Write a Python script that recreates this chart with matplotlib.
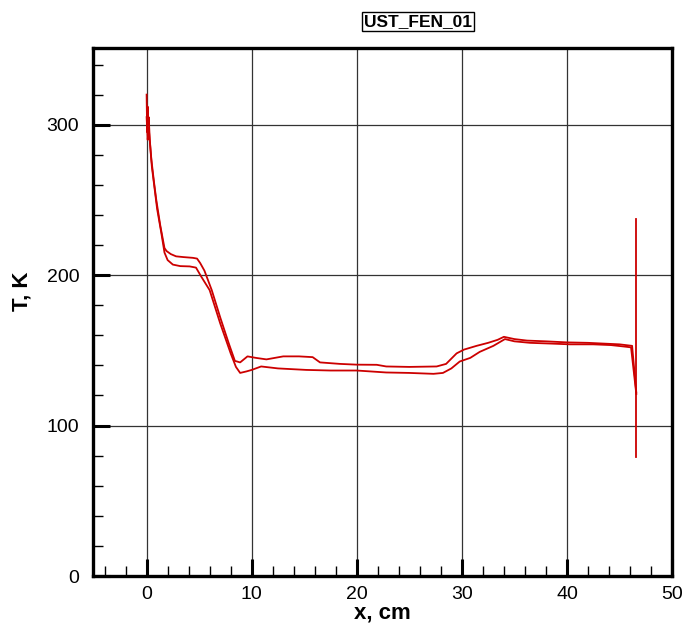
import numpy as np
import matplotlib
matplotlib.use("Agg")
import matplotlib.pyplot as plt
from matplotlib.ticker import MultipleLocator

plt.rcParams['font.family'] = ['Liberation Sans', 'DejaVu Sans']

# temperature profiles along x (two traces that form a loop)
x_upper = [0, 0.05, 0.1, 0.15, 0.2, 0.3, 0.45, 0.7, 0.92, 1.3, 1.7, 1.9, 2.3, 2.8,
           3.5, 4.4, 4.8, 5.1, 5.5, 6.2, 7.0, 7.8, 8.4, 8.9, 9.6, 10.4, 11.4, 12.2,
           13.0, 14.5, 15.8, 16.5, 18.4, 20.0, 21.9, 22.8, 25.0, 27.6, 28.5, 29.5,
           30.2, 31.4, 32.5, 33.4, 34.0, 35.0, 36.2, 38.0, 40.0, 42.0, 43.8, 45.0,
           46.2, 46.6]
T_upper = [320, 295, 312, 300, 305, 290, 277, 262, 250, 233, 218, 216, 214, 212.5,
           212, 211.5, 211, 208, 203, 190, 172, 155, 143, 142, 146, 145, 144, 145,
           146, 146, 145.5, 142, 141, 140.5, 140.4, 139.3, 139, 139.3, 141, 148,
           150.5, 153, 155, 157, 159, 157.5, 156.5, 156, 155.3, 155, 154.4, 154,
           153, 122]

x_lower = [0, 0.1, 0.2, 0.35, 0.5, 0.75, 1.0, 1.4, 1.7, 2.0, 2.5, 3.2, 4.1, 4.7,
           5.2, 6.0, 7.0, 8.0, 8.5, 8.9, 9.5, 10.0, 10.9, 12.5, 15.2, 17.5, 20.0,
           22.8, 25.0, 27.3, 28.2, 29.0, 29.8, 30.8, 31.7, 33.0, 34.1, 35.0, 36.5,
           38.5, 40.3, 42.5, 44.2, 45.5, 46.1, 46.6]
T_lower = [305, 290, 298, 285, 272, 258, 244, 228, 215, 210, 207, 206, 205.8, 205,
           199, 190, 168, 148, 139, 135, 136, 137, 139.3, 138, 137, 136.6, 136.6,
           135.3, 135, 134.4, 135, 138, 142.6, 145, 149, 153, 157.5, 156, 155,
           154.5, 154, 154, 153.5, 152.5, 152, 121]

# end face
x_end = [46.6, 46.6]
T_end = [237, 79]

title = "UST_FEN_01"

fig = plt.figure(figsize=(6.84, 6.23), dpi=100)
ax = fig.add_axes([0.136, 0.0754, 0.8465, 0.8476])

red = '#cc0000'
ax.plot(x_upper, T_upper, color=red, lw=1.3)
ax.plot(x_lower, T_lower, color=red, lw=1.3)
ax.plot(x_end, T_end, color=red, lw=1.3)

ax.set_xlim(-5.1, 50)
ax.set_ylim(0, 351)
ax.xaxis.set_major_locator(MultipleLocator(10))
ax.xaxis.set_minor_locator(MultipleLocator(2))
ax.yaxis.set_major_locator(MultipleLocator(100))
ax.yaxis.set_minor_locator(MultipleLocator(20))

ax.grid(True, which='major', color='#333333', lw=0.9)
ax.set_axisbelow(True)

ax.tick_params(which='both', direction='in', top=False, right=False,
               labelsize=14, colors='black')
ax.tick_params(which='major', length=12, width=2.2, pad=7)
ax.tick_params(which='minor', length=7, width=1.0)
ax.tick_params(axis='y', which='major', pad=10)

for sp in ax.spines.values():
    sp.set_linewidth(2.4)
    sp.set_color('black')

ax.set_xlabel("x, cm", fontsize=16, fontweight='bold')
ax.set_ylabel("T, K", fontsize=16, fontweight='bold')
ax.xaxis.set_label_coords(0.5, -0.05)
ax.yaxis.set_label_coords(-0.105, 0.54)

fig.text(0.611, 0.966, title, ha='center', va='center', fontsize=12.5,
         fontweight='bold',
         bbox=dict(boxstyle='square,pad=0.12', fc='white', ec='black', lw=1))

fig.savefig("out.png", dpi=100)
